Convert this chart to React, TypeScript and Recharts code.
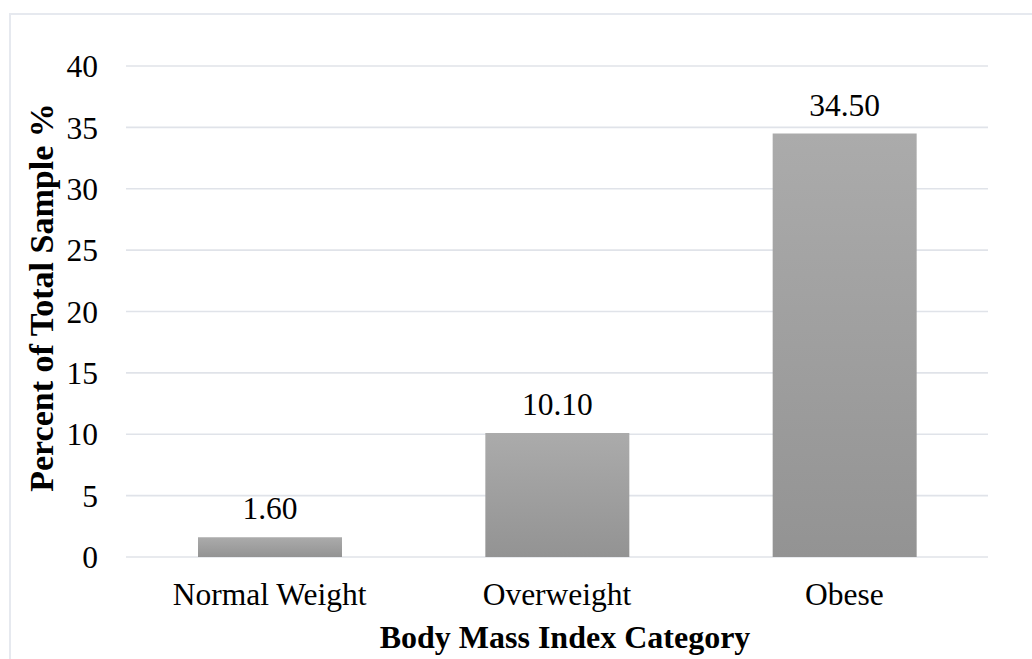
import { BarChart, Bar, XAxis, YAxis, CartesianGrid, LabelList, Label } from 'recharts';

const categories = ['Normal Weight', 'Overweight', 'Obese'];
const percentOfSample = [1.6, 10.1, 34.5];
const yTicks = [0, 5, 10, 15, 20, 25, 30, 35, 40];

const data = categories.map((name, i) => ({ name, value: percentOfSample[i] }));

const FONT = 'Liberation Serif';

const YTitle = ({ viewBox }: any) => {
  const cx = viewBox.x + 41;
  const cy = viewBox.y + viewBox.height / 2 - 14;
  return (
    <text
      x={cx}
      y={cy}
      transform={`rotate(-90, ${cx}, ${cy})`}
      textAnchor="middle"
      dominantBaseline="central"
      fontFamily={FONT}
      fontSize={34}
      fontWeight="bold"
      fill="#000"
    >
      Percent of Total Sample %
    </text>
  );
};

const XTitle = ({ viewBox }: any) => (
  <text
    x={viewBox.x + viewBox.width / 2 + 8}
    y={viewBox.y + viewBox.height - 11}
    textAnchor="middle"
    fontFamily={FONT}
    fontSize={32}
    fontWeight="bold"
    fill="#000"
  >
    Body Mass Index Category
  </text>
);

export default function App() {
  return (
    <div style={{ position: 'absolute', left: 0, top: 0, width: 1032, height: 659, background: '#fff', overflow: 'hidden', fontFamily: FONT }}>
      <div style={{ position: 'absolute', left: 9, top: 13, width: 1100, height: 800, border: '2px solid #e6e9ef' }} />
      <div style={{ position: 'absolute', left: 0, top: 0 }}>
        <BarChart width={1032} height={659} data={data} margin={{ top: 66, right: 44, left: 0, bottom: 0 }} barSize={144}>
          <defs>
            <linearGradient id="barFill" x1="0" y1="0" x2="0" y2="1">
              <stop offset="0%" stopColor="#ababab" />
              <stop offset="100%" stopColor="#939393" />
            </linearGradient>
          </defs>
          <CartesianGrid vertical={false} stroke="#e0e3e9" strokeWidth={1.6} />
          <XAxis
            dataKey="name"
            axisLine={false}
            tickLine={false}
            tickSize={0}
            tickMargin={26}
            height={102}
            interval={0}
            tick={{ fill: '#000', fontSize: 31.5, fontFamily: FONT }}
          >
            <Label content={<XTitle />} />
          </XAxis>
          <YAxis
            domain={[0, 40]}
            ticks={yTicks}
            axisLine={false}
            tickLine={false}
            tickSize={0}
            tickMargin={28}
            width={126}
            tick={{ fill: '#000', fontSize: 31.5, fontFamily: FONT }}
          >
            <Label content={<YTitle />} />
          </YAxis>
          <Bar dataKey="value" fill="url(#barFill)" isAnimationActive={false}>
            <LabelList
              dataKey="value"
              position="top"
              offset={18}
              formatter={(v: any) => Number(v).toFixed(2)}
              fontFamily={FONT}
              fontSize={31.5}
              fill="#000"
            />
          </Bar>
        </BarChart>
      </div>
    </div>
  );
}
